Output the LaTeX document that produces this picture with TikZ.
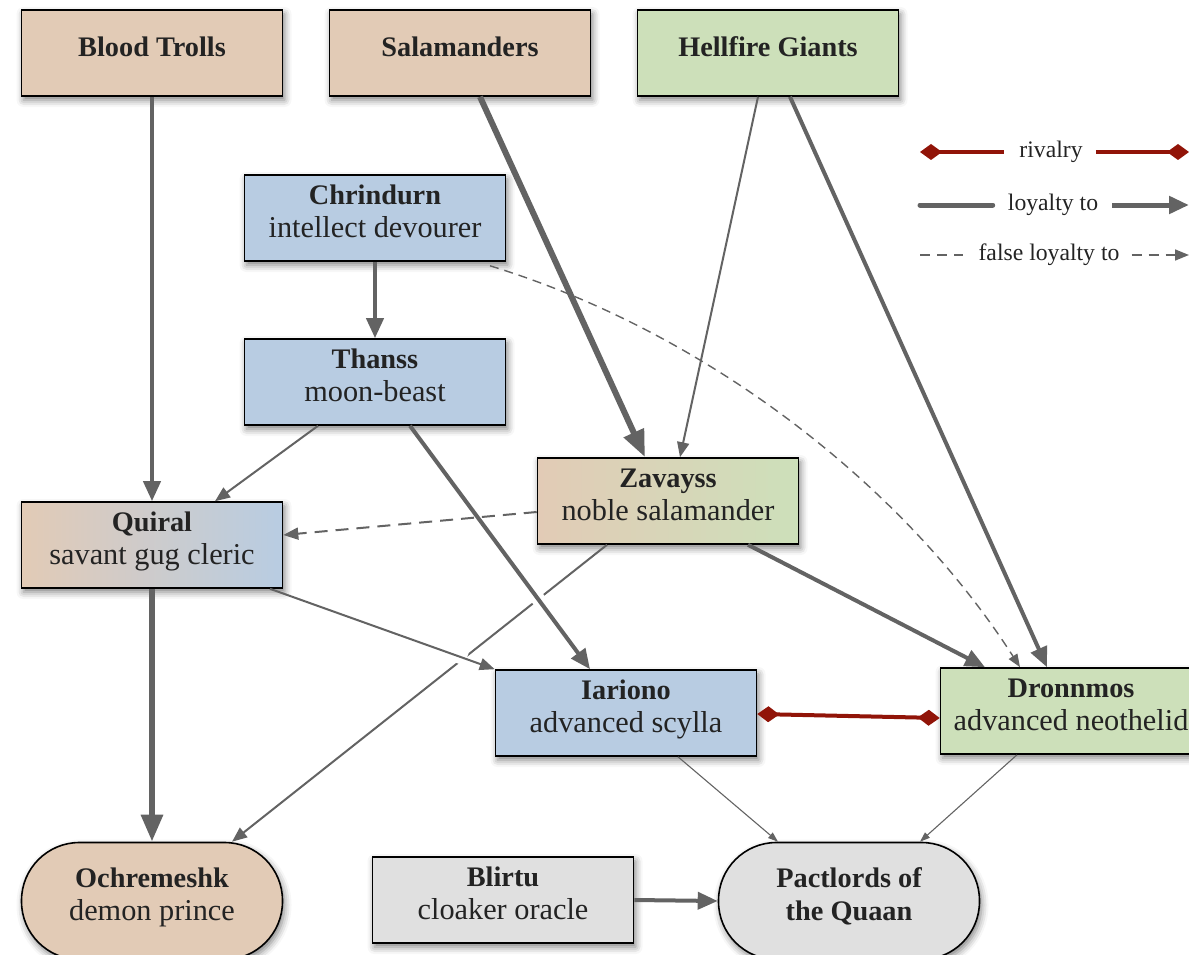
\documentclass[tikz,border=0pt]{standalone}
\usepackage{fontspec}
\setmainfont{Liberation Serif}
\usetikzlibrary{arrows.meta,shadows.blur,calc}

\definecolor{tan}{RGB}{226,203,182}
\definecolor{grn}{RGB}{205,224,186}
\definecolor{blu}{RGB}{184,204,226}
\definecolor{gry}{RGB}{224,224,224}
\definecolor{quimid}{RGB}{214,205,199}
\definecolor{edg}{RGB}{99,99,99}
\definecolor{riv}{RGB}{145,20,8}
\definecolor{txt}{RGB}{35,35,35}

\newcommand\nodetitle[1]{{\fontsize{28.3}{33}\selectfont\bfseries #1}}
\newcommand\lift[1]{\raisebox{0pt}[\height][\dimexpr\depth+7pt\relax]{\begin{tabular}{@{}c@{}}#1\end{tabular}}}

\tikzset{
  box/.style={draw=black, line width=1.6pt, minimum width=261pt, minimum height=86pt,
    inner sep=2pt, align=center, text=txt, font=\fontsize{30.3}{33}\selectfont,
    blur shadow={shadow xshift=2pt, shadow yshift=-4pt, shadow blur radius=7pt, shadow opacity=50}},
  pill/.style={box, rounded corners=58pt, minimum height=117pt},
  e1/.style={draw=edg, line width=1.1pt, -{Triangle[length=10pt,width=7pt]}},
  e2/.style={draw=edg, line width=2pt, -{Triangle[length=15pt,width=12pt]}},
  e3/.style={draw=edg, line width=4pt, -{Triangle[length=20pt,width=17pt]}},
  e4/.style={draw=edg, line width=6pt, -{Triangle[length=27pt,width=21pt]}},
  halo/.style={preaction={draw=white, line width=14pt, -, shorten >=30pt, shorten <=30pt}},
  rival/.style={draw=riv, line width=4pt, {Diamond[length=22pt,width=16pt]}-{Diamond[length=22pt,width=16pt]}},
  leg/.style={text=txt, font=\fontsize{23.7}{26}\selectfont, inner sep=0pt},
}

\begin{document}
\begin{tikzpicture}[x=1pt, y=-1pt]
\useasboundingbox (0,0) rectangle (1189,955);

% nodes
\node[box, fill=tan] (bt)  at (152,53)  {\lift{\nodetitle{Blood Trolls}}};
\node[box, fill=tan] (sal) at (460,53)  {\lift{\nodetitle{Salamanders}}};
\node[box, fill=grn] (hg)  at (768,53)  {\lift{\nodetitle{Hellfire Giants}}};
\node[box, fill=blu] (chr) at (375,218) {\lift{\nodetitle{Chrindurn}\\intellect devourer}};
\node[box, fill=blu] (tha) at (375,382) {\lift{\nodetitle{Thanss}\\moon-beast}};
\node[box, left color=tan, right color=grn] (zav) at (668,501) {\lift{\nodetitle{Zavayss}\\noble salamander}};
\node[box, left color=tan, middle color=quimid, right color=blu] (qui) at (152,545) {\lift{\nodetitle{Quiral}\\savant gug cleric}};
\node[box, fill=blu] (iar) at (626,713) {\lift{\nodetitle{Iariono}\\advanced scylla}};
\node[box, fill=grn] (dro) at (1071,711) {\lift{\nodetitle{Dronnmos}\\advanced neothelid}};
\node[pill, fill=tan] (och) at (152,901) {\lift{\nodetitle{Ochremeshk}\\demon prince}};
\node[box, fill=gry] (bli) at (503,900) {\lift{\nodetitle{Blirtu}\\cloaker oracle}};
\node[pill, fill=gry] (pac) at (849,901) {\lift{\nodetitle{Pactlords of}\\\nodetitle{the Quaan}}};

% edges
\draw[e2] ($(zav.south)+(-61,0)$) -- ($(och.north)+(80,0)$);
\draw[e3] (bt.south) -- (qui.north);
\draw[e4] ($(sal.south)+(20,0)$) -- ($(zav.north)+(-23,0)$);
\draw[e2] ($(hg.south)+(-10,0)$) -- ($(zav.north)+(12,0)$);
\draw[e3] ($(hg.south)+(22,0)$) -- ($(dro.north)+(-24,0)$);
\draw[e3] (chr.south) -- (tha.north);
\draw[draw=edg, line width=1.4pt, dash pattern=on 9pt off 6pt, -{Triangle[length=13pt,width=10pt]}]
  ($(chr.south)+(115,4)$) .. controls (700,330) and (900,480) .. ($(dro.north)+(-51,0)$);
\draw[e2] ($(tha.south)+(-57,0)$) -- ($(qui.north)+(63,0)$);
\draw[e3, halo] ($(tha.south)+(35,0)$) -- ($(iar.north)+(-36,0)$);
\draw[e2, dash pattern=on 13pt off 8pt] ($(zav.west)+(0,11)$) -- ($(qui.east)+(0,-10)$);
\draw[e3] ($(zav.south)+(80,0)$) -- ($(dro.north)+(-86,0)$);
\draw[e4] (qui.south) -- (och.north);
\draw[e2, halo] ($(qui.south)+(118,0)$) -- (iar.north west);
\draw[rival] ($(iar.east)+(0,1)$) -- ($(dro.west)+(0,7)$);
\draw[e1] ($(iar.south)+(52,0)$) -- ($(pac.north)+(-71,0)$);
\draw[e1] ($(dro.south)+(-54,0)$) -- ($(pac.north)+(71,0)$);
\draw[e3] (bli.east) -- (pac.west);

% legend
\node[leg] (lr) at (1051,152) {rivalry};
\node[leg] (ll) at (1053,205) {loyalty to};
\node[leg] (lf) at (1049,255) {false loyalty to};
\coordinate (lr1) at (920,152);
\coordinate (lr2) at (1189,152);
\coordinate (ll1) at (920,205);
\coordinate (ll2) at (1189,205);
\coordinate (lf1) at (920,255);
\coordinate (lf2) at (1189,255);
\draw[draw=riv, line width=4pt, {Diamond[length=22pt,width=16pt]}-, shorten >=15pt] (lr1) -- (lr.west);
\draw[draw=riv, line width=4pt, -{Diamond[length=22pt,width=16pt]}, shorten <=13pt] (lr.east) -- (lr2);
\draw[draw=edg, line width=5pt, line cap=round, shorten >=15pt] (ll1) -- (ll.west);
\draw[draw=edg, line width=5pt, -{Triangle[length=20pt,width=17pt]}, shorten <=14pt] (ll.east) -- (ll2);
\draw[draw=edg, line width=1.6pt, dash pattern=on 10pt off 7pt, shorten >=15pt] (lf1) -- (lf.west);
\draw[draw=edg, line width=1.6pt, dash pattern=on 10pt off 7pt, -{Triangle[length=14pt,width=11pt]}, shorten <=12pt] (lf.east) -- (lf2);
\end{tikzpicture}
\end{document}
